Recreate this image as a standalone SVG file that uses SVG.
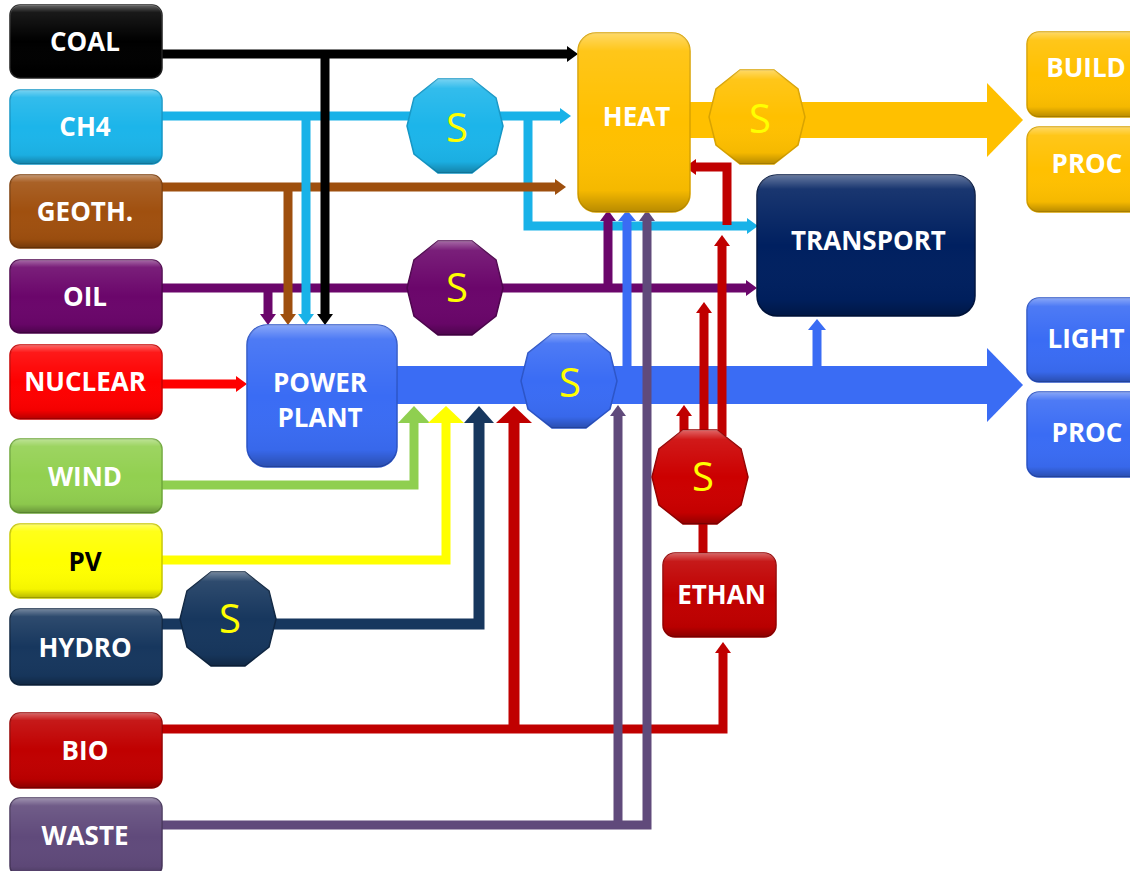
<svg xmlns="http://www.w3.org/2000/svg" xmlns:xlink="http://www.w3.org/1999/xlink" width="1130" height="871" viewBox="0 0 1130 871">
<style>
.t{font-family:"Open Sans","Liberation Sans",sans-serif;font-weight:700;font-size:26px;fill:#fff;text-anchor:middle}
.s{font-family:"Open Sans","Liberation Sans",sans-serif;font-weight:400;font-size:40px;fill:#ffff00;text-anchor:middle}
.ln{fill:none;stroke-width:9;stroke-linejoin:miter;stroke-linecap:butt}
.sh{fill:url(#shine)}
.bx{stroke-width:1.5}
</style>
<defs>
<linearGradient id="shine" x1="0" y1="0" x2="0" y2="1">
<stop offset="0" stop-color="#fff" stop-opacity="0.4"/>
<stop offset="0.1" stop-color="#fff" stop-opacity="0.1"/>
<stop offset="0.5" stop-color="#fff" stop-opacity="0"/>
<stop offset="0.88" stop-color="#000" stop-opacity="0.04"/>
<stop offset="1" stop-color="#000" stop-opacity="0.28"/>
</linearGradient>
<polygon id="dec" points="48,0 41,28 17,47 -17,47 -41,28 -48,0 -41,-28 -17,-47 17,-47 41,-28"/>
<marker id="a-black" markerUnits="userSpaceOnUse" markerWidth="11" markerHeight="16" refX="0" refY="8" orient="auto"><path d="M0,0 L11,8 L0,16z" fill="#000"/></marker>
<marker id="a-cyan" markerUnits="userSpaceOnUse" markerWidth="11" markerHeight="16" refX="0" refY="8" orient="auto"><path d="M0,0 L11,8 L0,16z" fill="#19b2e8"/></marker>
<marker id="a-brown" markerUnits="userSpaceOnUse" markerWidth="11" markerHeight="16" refX="0" refY="8" orient="auto"><path d="M0,0 L11,8 L0,16z" fill="#9e4f0e"/></marker>
<marker id="a-oil" markerUnits="userSpaceOnUse" markerWidth="11" markerHeight="16" refX="0" refY="8" orient="auto"><path d="M0,0 L11,8 L0,16z" fill="#6b066b"/></marker>
<marker id="a-nuc" markerUnits="userSpaceOnUse" markerWidth="11" markerHeight="16" refX="0" refY="8" orient="auto"><path d="M0,0 L11,8 L0,16z" fill="#fe0000"/></marker>
<marker id="a-waste" markerUnits="userSpaceOnUse" markerWidth="11" markerHeight="16" refX="0" refY="8" orient="auto"><path d="M0,0 L11,8 L0,16z" fill="#604a7b"/></marker>
<marker id="a-blue" markerUnits="userSpaceOnUse" markerWidth="11" markerHeight="18" refX="0" refY="9" orient="auto"><path d="M0,0 L11,9 L0,18z" fill="#3a6cf4"/></marker>
<marker id="a-red" markerUnits="userSpaceOnUse" markerWidth="11" markerHeight="16" refX="0" refY="8" orient="auto"><path d="M0,0 L11,8 L0,16z" fill="#c00000"/></marker>
<marker id="b-green" markerUnits="userSpaceOnUse" markerWidth="17" markerHeight="32" refX="0" refY="16" orient="auto"><path d="M0,0 L17,16 L0,32z" fill="#8fcf50"/></marker>
<marker id="b-yellow" markerUnits="userSpaceOnUse" markerWidth="17" markerHeight="36" refX="0" refY="18" orient="auto"><path d="M0,0 L17,18 L0,36z" fill="#ffff00"/></marker>
<marker id="b-navy" markerUnits="userSpaceOnUse" markerWidth="17" markerHeight="30" refX="0" refY="15" orient="auto"><path d="M0,0 L17,15 L0,30z" fill="#17375e"/></marker>
<marker id="b-red" markerUnits="userSpaceOnUse" markerWidth="17" markerHeight="36" refX="0" refY="18" orient="auto"><path d="M0,0 L17,18 L0,36z" fill="#c00000"/></marker>
</defs>
<rect width="1130" height="871" fill="#fff"/>

<g id="connectors">
<rect x="397" y="366" width="590" height="38" fill="#3a6cf4"/>
<polygon points="987,348 1023,385 987,422" fill="#3a6cf4"/>
<rect x="690" y="102" width="297" height="36" fill="#ffc000"/>
<polygon points="987,83 1023,120 987,157" fill="#ffc000"/>
<path class="ln" stroke="#19b2e8" d="M162,116 H560" marker-end="url(#a-cyan)"/>
<path class="ln" stroke="#19b2e8" d="M528,116 V226 H747" marker-end="url(#a-cyan)"/>
<path class="ln" stroke="#9e4f0e" d="M162,187 H555" marker-end="url(#a-brown)"/>
<path class="ln" stroke="#6b066b" d="M162,288 H746" marker-end="url(#a-oil)"/>
<path class="ln" stroke="#6b066b" d="M268,288 V314" marker-end="url(#a-oil)"/>
<path class="ln" stroke="#6b066b" d="M608,288 V221" marker-end="url(#a-oil)"/>
<path class="ln" stroke="#9e4f0e" d="M288,187 V314" marker-end="url(#a-brown)"/>
<path class="ln" stroke="#19b2e8" d="M306,116 V314" marker-end="url(#a-cyan)"/>
<path class="ln" stroke="#000" d="M162,54 H567" marker-end="url(#a-black)"/>
<path class="ln" stroke="#000" d="M325,54 V314" marker-end="url(#a-black)"/>
<path class="ln" stroke="#fe0000" d="M162,384 H236" marker-end="url(#a-nuc)"/>
<path class="ln" stroke="#8fcf50" d="M162,485 H414 V423" marker-end="url(#b-green)"/>
<path class="ln" stroke="#ffff00" d="M162,560 H446 V423" marker-end="url(#b-yellow)"/>
<path class="ln" stroke="#17375e" style="stroke-width:11" d="M162,624 H479 V423" marker-end="url(#b-navy)"/>
<path class="ln" stroke="#c00000" d="M162,729 H723 V653" marker-end="url(#a-red)"/>
<path class="ln" stroke="#c00000" style="stroke-width:11" d="M514,729 V423" marker-end="url(#b-red)"/>
<path class="ln" stroke="#3a6cf4" d="M627,370 V221" marker-end="url(#a-blue)"/>
<path class="ln" stroke="#3a6cf4" d="M817,370 V330" marker-end="url(#a-blue)"/>
<path class="ln" stroke="#604a7b" d="M162,825 H647 V221" marker-end="url(#a-waste)"/>
<path class="ln" stroke="#604a7b" d="M618,825 V416" marker-end="url(#a-waste)"/>
<path class="ln" stroke="#c00000" d="M703,523 V553"/>
<path class="ln" stroke="#c00000" d="M684,436 V416" marker-end="url(#a-red)"/>
<path class="ln" stroke="#c00000" d="M704,436 V313" marker-end="url(#a-red)"/>
<path class="ln" stroke="#c00000" d="M722,436 V246" marker-end="url(#a-red)"/>
<path class="ln" stroke="#c00000" d="M727,225 V167 H696" marker-end="url(#a-red)"/>
</g>

<g id="coal"><rect class="bx" x="10" y="5" width="152" height="73" rx="10" fill="#000" stroke="#222"/><rect class="sh" x="10" y="5" width="152" height="73" rx="10"/><text class="t" x="85" y="50.5">COAL</text></g>
<g id="ch4"><rect class="bx" x="10" y="90" width="152" height="74" rx="10" fill="#1cb5ea" stroke="#1497c6"/><rect class="sh" x="10" y="90" width="152" height="74" rx="10"/><text class="t" x="85" y="135.5">CH4</text></g>
<g id="geoth"><rect class="bx" x="10" y="175" width="152" height="73" rx="10" fill="#a0500f" stroke="#7e3e0a"/><rect class="sh" x="10" y="175" width="152" height="73" rx="10"/><text class="t" x="85" y="220.5">GEOTH.</text></g>
<g id="oil"><rect class="bx" x="10" y="260" width="152" height="73" rx="10" fill="#6b066b" stroke="#4e044e"/><rect class="sh" x="10" y="260" width="152" height="73" rx="10"/><text class="t" x="85" y="305.5">OIL</text></g>
<g id="nuclear"><rect class="bx" x="10" y="345" width="152" height="74" rx="10" fill="#fe0000" stroke="#c80000"/><rect class="sh" x="10" y="345" width="152" height="74" rx="10"/><text class="t" x="85" y="391">NUCLEAR</text></g>
<g id="wind"><rect class="bx" x="10" y="439" width="152" height="74" rx="10" fill="#92d050" stroke="#6fa83a"/><rect class="sh" x="10" y="439" width="152" height="74" rx="10"/><text class="t" x="85" y="486">WIND</text></g>
<g id="pv"><rect class="bx" x="10" y="524" width="152" height="74" rx="10" fill="#ffff00" stroke="#c8c800"/><rect class="sh" x="10" y="524" width="152" height="74" rx="10"/><text class="t" x="85" y="571" style="fill:#000">PV</text></g>
<g id="hydro"><rect class="bx" x="10" y="609" width="152" height="76" rx="10" fill="#17375e" stroke="#0f2642"/><rect class="sh" x="10" y="609" width="152" height="76" rx="10"/><text class="t" x="85" y="656.5">HYDRO</text></g>
<g id="bio"><rect class="bx" x="10" y="713" width="152" height="75" rx="10" fill="#c00000" stroke="#960000"/><rect class="sh" x="10" y="713" width="152" height="75" rx="10"/><text class="t" x="85" y="760">BIO</text></g>
<g id="waste"><rect class="bx" x="10" y="798" width="152" height="78" rx="10" fill="#604a7b" stroke="#48375d"/><rect class="sh" x="10" y="798" width="152" height="78" rx="10"/><text class="t" x="85" y="845">WASTE</text></g>

<g id="powerplant"><rect class="bx" x="247" y="325" width="150" height="142" rx="20" fill="#3a6cf4" stroke="#2c55c8"/><rect class="sh" x="247" y="325" width="150" height="142" rx="20"/><text class="t" x="320" y="391.5">POWER</text><text class="t" x="320" y="427">PLANT</text></g>
<g id="heat"><rect class="bx" x="578" y="33" width="112" height="179" rx="18" fill="#ffc000" stroke="#d9a300"/><rect class="sh" x="578" y="33" width="112" height="179" rx="18"/><text class="t" x="636.5" y="126">HEAT</text></g>
<g id="transport"><rect class="bx" x="757" y="175" width="218" height="141" rx="20" fill="#002060" stroke="#001540"/><rect class="sh" x="757" y="175" width="218" height="141" rx="20"/><text class="t" x="868.5" y="250">TRANSPORT</text></g>
<g id="ethan"><rect class="bx" x="663" y="553" width="113" height="84" rx="12" fill="#c00000" stroke="#960000"/><rect class="sh" x="663" y="553" width="113" height="84" rx="12"/><text class="t" x="721.5" y="603.5">ETHAN</text></g>
<g id="build"><rect class="bx" x="1027" y="32" width="120" height="85" rx="12" fill="#ffc000" stroke="#d9a300"/><rect class="sh" x="1027" y="32" width="120" height="85" rx="12"/><text class="t" x="1086" y="77">BUILD</text></g>
<g id="proc-heat"><rect class="bx" x="1027" y="127" width="120" height="85" rx="12" fill="#ffc000" stroke="#d9a300"/><rect class="sh" x="1027" y="127" width="120" height="85" rx="12"/><text class="t" x="1087" y="172.5">PROC</text></g>
<g id="light"><rect class="bx" x="1027" y="298" width="120" height="84" rx="12" fill="#3a6cf4" stroke="#2c55c8"/><rect class="sh" x="1027" y="298" width="120" height="84" rx="12"/><text class="t" x="1086" y="347.5">LIGHT</text></g>
<g id="proc-elec"><rect class="bx" x="1027" y="392" width="120" height="85" rx="12" fill="#3a6cf4" stroke="#2c55c8"/><rect class="sh" x="1027" y="392" width="120" height="85" rx="12"/><text class="t" x="1087" y="441.5">PROC</text></g>

<g id="s-ch4"><use xlink:href="#dec" x="455" y="126" fill="#1cb5ea" stroke="#1497c6" stroke-width="1.5"/><use xlink:href="#dec" x="455" y="126" class="sh"/><text class="s" x="457" y="142">S</text></g>
<g id="s-oil"><use xlink:href="#dec" x="455" y="288" fill="#6b066b" stroke="#4e044e" stroke-width="1.5"/><use xlink:href="#dec" x="455" y="288" class="sh"/><text class="s" x="457" y="302">S</text></g>
<g id="s-heat"><use xlink:href="#dec" x="757" y="117" fill="#ffc000" stroke="#d9a300" stroke-width="1.5"/><use xlink:href="#dec" x="757" y="117" class="sh"/><text class="s" x="760" y="132.5">S</text></g>
<g id="s-power"><use xlink:href="#dec" x="569" y="381" fill="#3a6cf4" stroke="#2c55c8" stroke-width="1.5"/><use xlink:href="#dec" x="569" y="381" class="sh"/><text class="s" x="570" y="396.5">S</text></g>
<g id="s-ethan"><use xlink:href="#dec" x="700" y="477" fill="#cc0000" stroke="#960000" stroke-width="1.5"/><use xlink:href="#dec" x="700" y="477" class="sh"/><text class="s" x="703" y="491">S</text></g>
<g id="s-hydro"><use xlink:href="#dec" x="228" y="619" fill="#17375e" stroke="#0f2642" stroke-width="1.5"/><use xlink:href="#dec" x="228" y="619" class="sh"/><text class="s" x="230" y="633">S</text></g>
</svg>
